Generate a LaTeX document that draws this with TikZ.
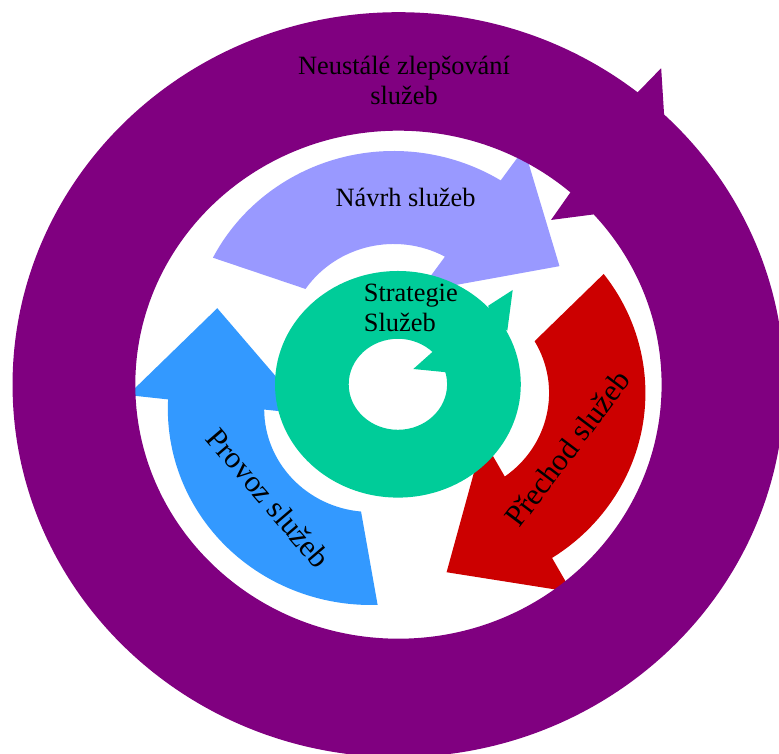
\documentclass[tikz,border=0pt]{standalone}
\usepackage{fontspec}
\setmainfont{Liberation Serif}

\definecolor{ringpurple}{HTML}{800080}
\definecolor{designlav}{HTML}{9999FF}
\definecolor{opsblue}{HTML}{3399FF}
\definecolor{transred}{HTML}{CC0000}
\definecolor{stratgreen}{HTML}{00CC99}

\tikzset{
  % curved block arrow, drawn around its own centre, axis along +x
  cyclearrow path/.style={insert path={
    (50.9:196) arc[start angle=50.9, end angle=-43.8, radius=196]
    -- (-44.4:235) -- (-75.2:179.3) -- (-36:60.6) -- (-40.7:103)
    arc[start angle=-40.7, end angle=43.7, radius=103] -- cycle}},
  label text/.style={font=\fontsize{13.2}{15.2}\selectfont, inner sep=0pt, text=black},
  arrow text/.style={font=\fontsize{15.3}{17.6}\selectfont, inner sep=0pt, text=black},
}

\begin{document}
\begin{tikzpicture}[x=0.5pt, y=0.5pt]
\useasboundingbox (0,0) rectangle (779,753);

% the three phase arrows
\begin{scope}[xscale=1.036]
  \begin{scope}[shift={(380,406)}, rotate=102]
    \fill[designlav, cyclearrow path];
  \end{scope}
  \begin{scope}[shift={(358,344)}, rotate=221]
    \fill[opsblue, cyclearrow path];
  \end{scope}
  \begin{scope}[shift={(427,360)}, rotate=346.5]
    \fill[transred, cyclearrow path];
  \end{scope}
\end{scope}

% strategy ring in the middle
\fill[stratgreen, even odd rule]
  (397.9,368.7) ellipse [x radius=122.9, y radius=113.3]
  (397.9,368.7) ellipse [x radius=49.2, y radius=45.5];
\fill[stratgreen] (488.3,447.3) -- (512.7,463) -- (507.3,422.3) -- (491.1,430.4) -- cycle;
\fill[stratgreen] (432.7,401.3) -- (413.3,384) -- (446.7,380.7) -- (446.4,394.6) -- cycle;

% outer improvement ring
\begin{scope}[xscale=1.036]
  \begin{scope}[shift={(384.6,368.3)}]
    \fill[ringpurple, even odd rule] (0,0) circle (372.5) (0,0) circle (254);
    \fill[ringpurple] (52:362) -- (51.7:372.5) -- (51.3:405.6) -- (46.5:372.5) -- (46.5:362) -- cycle;
    \fill[ringpurple] (49.2:264) -- (49.2:254) -- (48.2:221) -- (42.1:254) -- (42.1:264) -- cycle;
  \end{scope}
\end{scope}

% labels
\node[label text, align=center, anchor=base] (ringlabel) at (404,648.3) {Neustálé zlepšování\\služeb};
\node[label text, anchor=base] (navrhlabel) at (405.6,546.5) {Návrh služeb};
\node[label text, align=left, anchor=base west] (stratlabel) at (363.5,421) {Strategie\\Služeb};
\node[arrow text, rotate=-49.5] (provozlabel) at (268.5,255) {Provoz služeb};
\node[arrow text, rotate=53] (prechodlabel) at (567.5,304.7) {Přechod služeb};
\end{tikzpicture}
\end{document}
